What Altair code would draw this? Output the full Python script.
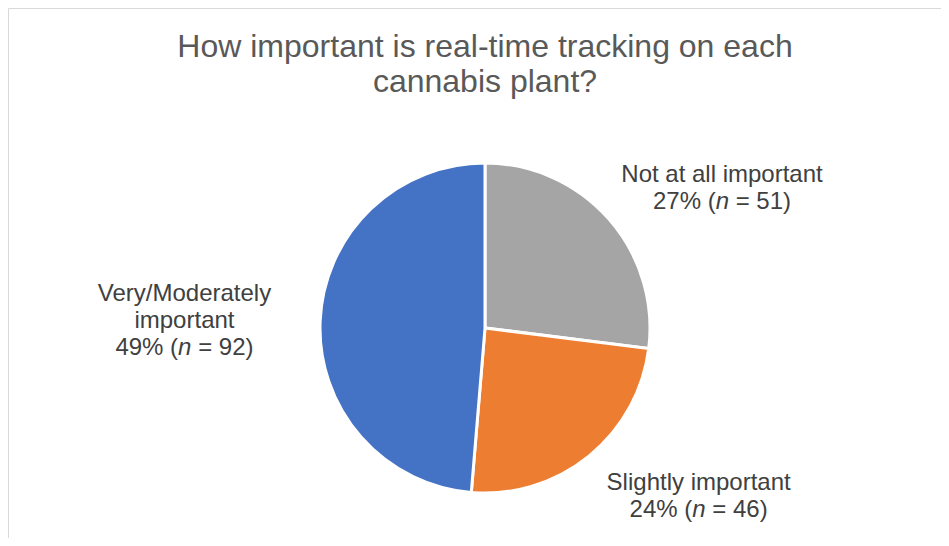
import altair as alt
import pandas as pd

# ---- data ----
categories = ["Not at all important", "Slightly important", "Very/Moderately important"]
label_lines = ["Not at all important", "Slightly important", "Very/Moderately\nimportant"]
counts = [51, 46, 92]
percents = [27, 24, 49]
colors = ["#A5A5A5", "#ED7D31", "#4472C4"]
title_lines = ["How important is real-time tracking on each", "cannabis plant?"]

# ---- layout / style ----
FONT = "Liberation Sans"
FS = 24
LH = 27
LABEL_COLOR = "#404040"
TITLE_COLOR = "#595959"
PAD_L, PAD_T = 21, 110
W, H = 912, 420
OUTER_R = 165
LABEL_R = 195
# label offsets from the point at LABEL_R on each slice's mid-angle (dx, dy of last line)
nudges = [(90.8, 9.6), (90.8, 37.6), (-105.7, 35.1)]

# Arial/Liberation advance widths (em) for the "NN% (n = NN)" line pieces
prefix_w = 2.612 * FS
n_w = 0.556 * FS
space_w = 0.278 * FS
suffix_w = 2.307 * FS
line_w = prefix_w + n_w + space_w + suffix_w
n_left = -line_w / 2 + prefix_w
suf_left = n_left + n_w + space_w

base = pd.DataFrame({
    "category": categories,
    "count": counts,
    "order": list(range(len(categories))),
})

theta = alt.Theta("count:Q", stack=True)
order = alt.Order("order:Q", sort="ascending")

pie = alt.Chart(base).mark_arc(
    outerRadius=OUTER_R, stroke="white", strokeWidth=3
).encode(
    theta=theta,
    order=order,
    color=alt.Color("category:N", scale=alt.Scale(domain=categories, range=colors), legend=None),
)

layers = [pie]
for i, cat in enumerate(categories):
    dx, dy = nudges[i]
    df = base.copy()
    df["upper"] = [label_lines[j] if j == i else "" for j in range(len(categories))]
    df["prefix"] = [f"{percents[j]}% (" if j == i else "" for j in range(len(categories))]
    df["nsym"] = ["n" if j == i else "" for j in range(len(categories))]
    df["suffix"] = [f"= {counts[j]})" if j == i else "" for j in range(len(categories))]
    nlines = label_lines[i].count("\n") + 1
    common = dict(radius=LABEL_R, font=FONT, fontSize=FS, color=LABEL_COLOR, baseline="alphabetic")
    enc = dict(theta=theta, order=order, detail="category:N")
    layers.append(alt.Chart(df).mark_text(
        align="center", dx=dx, dy=dy - LH * nlines, lineBreak="\n", lineHeight=LH, **common
    ).encode(text="upper:N", **enc))
    layers.append(alt.Chart(df).mark_text(
        align="right", dx=dx + n_left, dy=dy, **common
    ).encode(text="prefix:N", **enc))
    layers.append(alt.Chart(df).mark_text(
        align="left", dx=dx + n_left, dy=dy, fontStyle="italic", **common
    ).encode(text="nsym:N", **enc))
    layers.append(alt.Chart(df).mark_text(
        align="left", dx=dx + suf_left, dy=dy, **common
    ).encode(text="suffix:N", **enc))

title_df = pd.DataFrame({"t": ["\n".join(title_lines)]})
title = alt.Chart(title_df).mark_text(
    font=FONT, fontSize=32, color=TITLE_COLOR, align="center", baseline="alphabetic",
    lineBreak="\n", lineHeight=35,
).encode(x=alt.value(W / 2), y=alt.value(-61.3), text="t:N")

one = pd.DataFrame({"k": [0]})
border_left = alt.Chart(one).mark_rule(color="#D9D9D9", strokeWidth=1).encode(
    x=alt.value(-20.5), y=alt.value(-109.5), y2=alt.value(H)
)
border_top = alt.Chart(one).mark_rule(color="#D9D9D9", strokeWidth=1).encode(
    x=alt.value(-20.5), x2=alt.value(W), y=alt.value(-109.5)
)

chart = alt.layer(border_left, border_top, title, *layers).properties(
    width=W, height=H,
    autosize=alt.AutoSizeParams(type="none"),
    padding={"left": PAD_L, "top": PAD_T, "right": 0, "bottom": 0},
    background="white",
).configure_view(strokeWidth=0)

chart.save("out.html", embed_options={"renderer": "svg", "actions": False})
